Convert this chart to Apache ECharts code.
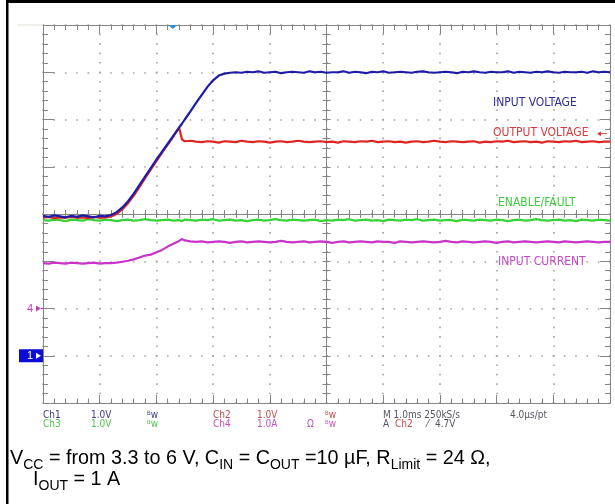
<!DOCTYPE html>
<html><head><meta charset="utf-8">
<script src="https://cdn.jsdelivr.net/npm/echarts@6/dist/echarts.min.js"></script>
<style>html,body{margin:0;padding:0;background:#fff}#c{width:615px;height:504px}</style>
</head><body><div id="c"></div>
<script>
// ---- data (time in ms relative to screen centre, 1 ms/div) ----
const timeMs = [
-5,-4.9,-4.8,-4.7,-4.6,-4.5,-4.4,-4.3,-4.2,-4.1,
-4,-3.9,-3.8,-3.7,-3.6,-3.5,-3.4,-3.3,-3.2,-3.1,
-3,-2.9,-2.8,-2.7,-2.6,-2.55,-2.5,-2.4,-2.3,-2.2,
-2.1,-2,-1.9,-1.8,-1.7,-1.6,-1.5,-1.4,-1.3,-1.2,
-1.1,-1,-0.9,-0.8,-0.7,-0.6,-0.5,-0.4,-0.3,-0.2,
-0.1,0,0.1,0.2,0.3,0.4,0.5,0.6,0.7,0.8,
0.9,1,1.1,1.2,1.3,1.4,1.5,1.6,1.7,1.8,
1.9,2,2.1,2.2,2.3,2.4,2.5,2.6,2.7,2.8,
2.9,3,3.1,3.2,3.3,3.4,3.5,3.6,3.7,3.8,
3.9,4,4.1,4.2,4.3,4.4,4.5,4.6,4.7,4.8,
4.9,5];
// Ch1 input voltage (V)
const ch1Volts = [
2.96,2.94,2.97,2.95,2.93,2.96,2.94,2.97,2.95,2.93,2.96,2.95,
2.98,3.04,3.14,3.27,3.43,3.61,3.79,3.97,4.15,4.32,4.49,4.66,4.83,4.91,5.00,5.17,5.35,5.52,5.69,5.83,5.93,5.97,5.99,
6.00,5.99,6.01,6.00,6.02,5.99,6.00,6.01,5.98,6.00,
6.01,6.00,5.99,6.02,6.00,6.01,5.99,6.00,6.00,6.02,
5.99,6.01,6.00,5.98,6.01,6.00,6.02,5.99,6.00,6.01,
6.00,5.99,6.01,6.02,6.00,5.99,6.00,6.01,6.00,5.98,
6.01,6.00,6.02,6.00,5.99,6.01,6.00,6.00,6.02,5.99,
6.01,6.00,5.99,6.01,6.00,6.02,6.00,5.99,6.01,6.00,
6.00,6.01,5.99,6.02,6.00,6.01,6.00];
// Ch2 output voltage (V)
const ch2Volts = [
2.92,2.94,2.91,2.93,2.92,2.94,2.92,2.93,2.91,2.94,2.92,2.93,
2.95,3.00,3.10,3.23,3.39,3.57,3.76,3.94,4.12,4.30,4.47,4.64,4.83,4.58,4.54,4.55,
4.53,4.52,4.54,4.53,4.51,4.54,4.53,4.52,4.55,4.53,
4.52,4.54,4.53,4.51,4.53,4.54,4.52,4.53,4.55,4.53,
4.52,4.53,4.54,4.52,4.53,4.51,4.54,4.53,4.52,4.54,
4.53,4.55,4.52,4.53,4.54,4.52,4.53,4.51,4.53,4.54,
4.52,4.53,4.55,4.53,4.52,4.54,4.53,4.52,4.53,4.54,
4.51,4.53,4.52,4.54,4.53,4.55,4.52,4.53,4.54,4.52,
4.53,4.51,4.54,4.53,4.52,4.54,4.53,4.55,4.52,4.53,
4.54,4.52,4.53,4.53];
// Ch3 enable/fault (V)
const ch3Volts = [
2.87,2.86,2.88,2.87,2.85,2.88,2.87,2.86,2.89,2.87,
2.86,2.88,2.87,2.85,2.87,2.88,2.86,2.87,2.89,2.87,
2.86,2.87,2.88,2.86,2.87,2.85,2.88,2.87,2.86,2.88,
2.87,2.89,2.86,2.87,2.88,2.86,2.87,2.85,2.87,2.88,
2.86,2.87,2.89,2.87,2.86,2.88,2.87,2.86,2.87,2.88,
2.85,2.87,2.86,2.88,2.87,2.89,2.86,2.87,2.88,2.86,
2.87,2.85,2.88,2.87,2.86,2.88,2.87,2.89,2.86,2.87,
2.88,2.86,2.87,2.87,2.85,2.88,2.87,2.86,2.88,2.87,
2.86,2.88,2.87,2.85,2.87,2.88,2.86,2.87,2.89,2.87,
2.86,2.87,2.88,2.86,2.87,2.85,2.88,2.87,2.86,2.88,
2.87,2.86];
// Ch4 input current (A)
const ch4Amps = [
0.96,0.95,0.97,0.96,0.95,0.97,0.96,0.95,0.96,0.97,0.95,0.96,0.96,
0.97,0.99,1.01,1.04,1.08,1.12,1.14,1.19,1.24,1.31,1.37,1.43,1.47,1.44,1.42,
1.41,1.42,1.40,1.41,1.42,1.41,1.39,1.41,1.42,1.40,
1.41,1.42,1.41,1.40,1.41,1.43,1.41,1.40,1.41,1.42,
1.40,1.41,1.42,1.41,1.39,1.41,1.42,1.40,1.41,1.42,
1.41,1.40,1.42,1.41,1.41,1.39,1.42,1.41,1.40,1.41,
1.42,1.41,1.40,1.41,1.43,1.41,1.40,1.42,1.41,1.40,
1.41,1.42,1.41,1.39,1.41,1.42,1.40,1.41,1.42,1.41,
1.40,1.41,1.42,1.41,1.40,1.42,1.41,1.40,1.41,1.42,
1.41,1.40,1.41,1.41];
const traceNames = ['INPUT VOLTAGE','OUTPUT VOLTAGE','ENABLE/FAULT','INPUT CURRENT'];
const unitsPerDiv = [1.0, 1.0, 1.0, 1.0];
const groundDiv = [-3, -3, -3, -2];
const triggerLevelV = 4.7;
const triggerTimeMs = -2.71;

// ---- chart ----
const traceColors = ['#1c1ca6','#e02424','#36d236','#c835c8'];
const frame = '#858585';
const dots = '#a2a2a2';
const chart = echarts.init(document.getElementById('c'), null, {renderer:'canvas'});
const toDiv = (vals, ch) => timeMs.map((t,i) => [t, vals[i]/unitsPerDiv[ch] + groundDiv[ch]]);

function xAx(pos, onZero, inside, major, minor, split){
  return {type:'value', min:-5, max:5, interval:1, position:pos,
    axisLine:{show:true, onZero:onZero, onZeroAxisIndex:0, lineStyle:{color:frame,width:1}},
    axisTick:{show:true, inside:inside, length:major, lineStyle:{color:frame,width:1}},
    minorTick:{show:true, splitNumber:5, length:minor, lineStyle:{color:frame,width:1}},
    axisLabel:{show:false},
    splitLine:{show:split, lineStyle:{color:dots, width:1.6, type:[1.6,7.85], dashOffset:0.8}},
    minorSplitLine:{show:false}};
}
function yAx(pos, onZero, inside, major, minor, split){
  return {type:'value', min:-4, max:4, interval:1, position:pos,
    axisLine:{show:true, onZero:onZero, onZeroAxisIndex:0, lineStyle:{color:frame,width:1}},
    axisTick:{show:true, inside:inside, length:major, lineStyle:{color:frame,width:1}},
    minorTick:{show:true, splitNumber:5, length:minor, lineStyle:{color:frame,width:1}},
    axisLabel:{show:false},
    splitLine:{show:split, lineStyle:{color:dots, width:1.6, type:[1.6,9.74], dashOffset:0.8}},
    minorSplitLine:{show:false}};
}
function trace(vals, ch, z){
  return {type:'line', name:traceNames[ch], xAxisIndex:0, yAxisIndex:0, data:toDiv(vals, ch),
    symbol:'none', showSymbol:false, silent:true, z:z,
    lineStyle:{color:traceColors[ch], width:2.2}};
}
chart.setOption({
  animation:false,
  backgroundColor:'#ffffff',
  grid:{left:43, top:25, width:567, height:378, containLabel:false, outerBoundsMode:'none'},
  xAxis:[xAx('bottom',false,true,8,4.5,true), xAx('top',false,true,9,5,false),
         xAx('bottom',true,true,4,4,false), xAx('bottom',true,false,4,4,false)],
  yAxis:[yAx('left',false,true,11,5,true), yAx('right',false,true,10,5,false),
         yAx('left',true,true,4,4,false), yAx('left',true,false,4,4,false)],
  series:[trace(ch3Volts,2,3), trace(ch4Amps,3,4), trace(ch2Volts,1,5), trace(ch1Volts,0,6)]
});

const px = (x,y) => chart.convertToPixel({gridIndex:0}, [x,y]);
const g1 = px(-5, groundDiv[0]);
const g4 = px(-5, groundDiv[3]);
const tt = px(triggerTimeMs, 4);
const tl = px(5, triggerLevelV/unitsPerDiv[1] + groundDiv[1]);
const narrow = "'Liberation Sans Narrow','Arial Narrow','DejaVu Sans Condensed',sans-serif";
const sans = "'Liberation Sans',Arial,sans-serif";

function lbl(text, x, y, color, size){
  return {type:'text', silent:true, z:20, style:{text:text, x:x, y:y, fill:color, font:(size||12)+'px '+narrow, verticalAlign:'middle'}};
}
function bw(x, y, color){
  return {type:'text', silent:true, z:20, style:{text:'{s|B}{n|w}', x:x, y:y, verticalAlign:'middle',
    rich:{s:{fontSize:6, fontFamily:narrow, fill:color, verticalAlign:'top', lineHeight:10},
          n:{fontSize:10, fontFamily:narrow, fill:color, lineHeight:10}}}};
}
const r1 = 415, r2 = 424;
const blueT = '#3a3a8e', redT = '#c44e4e', greenT = '#52c452', magT = '#c452c4', grayT = '#55555f';
const capRich = {m:{fontSize:19.8, fontFamily:sans, fill:'#000', lineHeight:26},
                 s:{fontSize:14, fontFamily:sans, fill:'#000', lineHeight:14, verticalAlign:'bottom'}};
const graphics = [
  {type:'rect', silent:true, z:30, shape:{x:6,y:0,width:609,height:3}, style:{fill:'#000'}},
  {type:'rect', silent:true, z:30, shape:{x:6,y:0,width:2.5,height:504}, style:{fill:'#000'}},
  {type:'line', silent:true, z:1, shape:{x1:17,y1:25,x2:43,y2:25}, style:{stroke:'#e2dfd4',lineWidth:1}},
  // channel 1 ground marker
  {type:'rect', silent:true, z:20, shape:{x:19,y:g1[1]-6.5,width:24,height:13}, style:{fill:'#0c0cd6'}},
  {type:'text', silent:true, z:21, style:{text:'1', x:27, y:g1[1], fill:'#fff', font:'11px '+sans, verticalAlign:'middle'}},
  {type:'polygon', silent:true, z:21, shape:{points:[[36,g1[1]-3],[41,g1[1]],[36,g1[1]+3]]}, style:{fill:'#fff'}},
  // channel 4 ground marker
  {type:'text', silent:true, z:21, style:{text:'4', x:27, y:g4[1], fill:'#c040c0', font:'11px '+sans, verticalAlign:'middle'}},
  {type:'polygon', silent:true, z:21, shape:{points:[[36,g4[1]-3],[41,g4[1]],[36,g4[1]+3]]}, style:{fill:'#c040c0'}},
  {type:'line', silent:true, z:21, shape:{x1:41,y1:g4[1],x2:44,y2:g4[1]}, style:{stroke:'#c040c0',lineWidth:1}},
  // trigger position and level
  {type:'polygon', silent:true, z:21, shape:{points:[[tt[0]-4.5,tt[1]],[tt[0]+4.5,tt[1]],[tt[0],tt[1]+4]]}, style:{fill:'#2a8ed6'}},
  {type:'polygon', silent:true, z:21, shape:{points:[[597,tl[1]],[601,tl[1]-2.5],[601,tl[1]+2.5]]}, style:{fill:'#d43c3c'}},
  {type:'line', silent:true, z:21, shape:{x1:600,y1:tl[1],x2:607,y2:tl[1]}, style:{stroke:'#d43c3c',lineWidth:1}},
  // trace labels
  lbl(traceNames[0], 493, 103, '#2c2c9c'),
  lbl(traceNames[1], 493, 133, '#d33c3c'),
  lbl(traceNames[2], 498, 203, '#3ccc3c'),
  lbl(traceNames[3], 498, 262, '#c648c6'),
  // scope status lines
  lbl('Ch1', 43, r1, blueT, 10), lbl('1.0V', 91, r1, blueT, 10), bw(147, r1, blueT),
  lbl('Ch2', 213, r1, redT, 10), lbl('1.0V', 257, r1, redT, 10), bw(325, r1, redT),
  lbl('M 1.0ms 250kS/s', 383, r1, grayT, 10), lbl('4.0µs/pt', 510, r1, grayT, 10),
  lbl('Ch3', 43, r2, greenT, 10), lbl('1.0V', 91, r2, greenT, 10), bw(147, r2, greenT),
  lbl('Ch4', 213, r2, magT, 10), lbl('1.0A', 257, r2, magT, 10), lbl('Ω', 307, r2, magT, 10), bw(325, r2, magT),
  lbl('A', 383, r2, grayT, 10), lbl('Ch2', 395, r2, redT, 10), lbl('⁄', 427, r2, grayT, 10), lbl('4.7V', 435, r2, grayT, 10),
  // caption
  {type:'text', silent:true, z:20, style:{x:10, y:446, verticalAlign:'top',
    text:'{m|V}{s|CC}{m| = from 3.3 to 6 V, C}{s|IN}{m| = C}{s|OUT}{m| =10 µF, R}{s|Limit}{m| = 24 Ω,}', rich:capRich}},
  {type:'text', silent:true, z:20, style:{x:33, y:467, verticalAlign:'top',
    text:'{m|I}{s|OUT}{m| = 1 A}', rich:capRich}}
];
chart.setOption({graphic:graphics});
</script></body></html>
